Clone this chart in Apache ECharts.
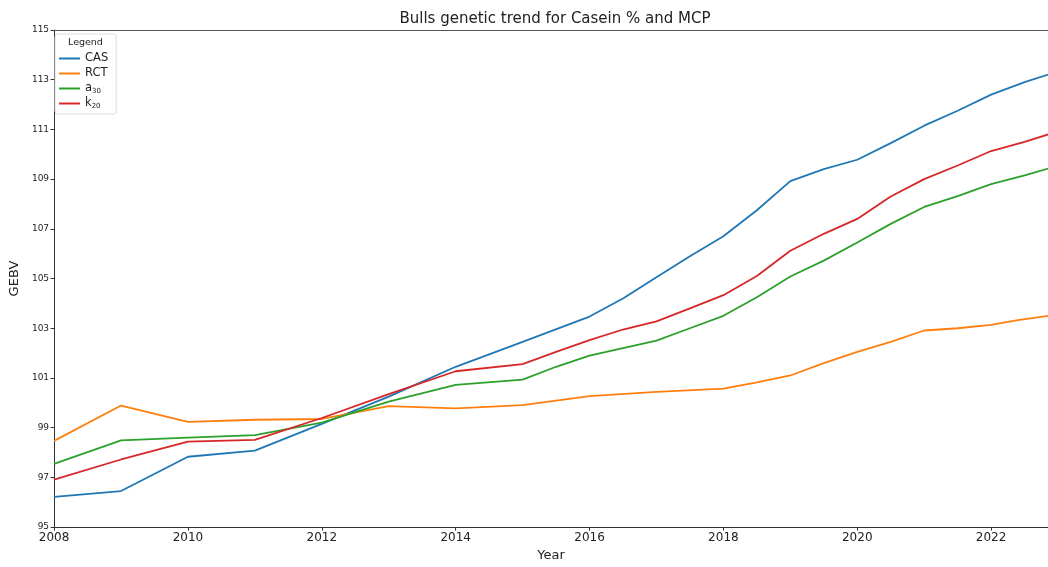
<!DOCTYPE html>
<html>
<head>
<meta charset="utf-8">
<script src="https://cdn.jsdelivr.net/npm/echarts@6/dist/echarts.min.js"></script>
<style>
html,body{margin:0;padding:0;background:#fff;overflow:hidden;}
#chart{width:1048px;height:567px;}
</style>
</head>
<body>
<div id="chart"></div>
<script>
const titleText = "Bulls genetic trend for Casein % and MCP";
const seriesNames = ["CAS", "RCT", "a30", "k20"];
const legendLabels = ["CAS", "RCT", "a{sub|30}", "k{sub|20}"];
const colors = ["#1f77b4", "#ff7f0e", "#2ca02c", "#d62728"];
const yTicks = {min: 95, max: 115, interval: 2};
const xTicks = {min: 2008, max: 2022.85, interval: 2};

const casData = [
  [2008, 96.22], [2009, 96.45], [2010, 97.83], [2011, 98.08], [2012, 99.15],
  [2013, 100.25], [2014, 101.45], [2015, 102.45], [2016, 103.47], [2016.5, 104.2],
  [2017, 105.05], [2017.5, 105.9], [2018, 106.7], [2018.5, 107.75], [2019, 108.92],
  [2019.5, 109.4], [2020, 109.78], [2020.5, 110.45], [2021, 111.15], [2021.5, 111.75],
  [2022, 112.4], [2022.5, 112.9], [2022.9, 113.25]
];
const rctData = [
  [2008, 98.47], [2009, 99.89], [2010, 99.23], [2011, 99.32], [2012, 99.35],
  [2013, 99.87], [2014, 99.78], [2015, 99.91], [2016, 100.27], [2017, 100.44],
  [2018, 100.57], [2018.5, 100.82], [2019, 101.1], [2019.5, 101.6], [2020, 102.05],
  [2020.5, 102.45], [2021, 102.91], [2021.5, 103.0], [2022, 103.14], [2022.4, 103.33],
  [2022.9, 103.52]
];
const a30Data = [
  [2008, 97.54], [2009, 98.49], [2010, 98.6], [2011, 98.7], [2012, 99.2],
  [2013, 100.05], [2014, 100.72], [2015, 100.93], [2015.5, 101.45], [2016, 101.9],
  [2016.5, 102.2], [2017, 102.5], [2017.5, 103.0], [2018, 103.5], [2018.5, 104.25],
  [2019, 105.08], [2019.5, 105.72], [2020, 106.45], [2020.5, 107.2], [2021, 107.88],
  [2021.5, 108.32], [2022, 108.8], [2022.5, 109.15], [2022.9, 109.46]
];
const k20Data = [
  [2008, 96.91], [2009, 97.72], [2010, 98.44], [2011, 98.51], [2012, 99.39],
  [2013, 100.35], [2014, 101.27], [2015, 101.56], [2015.5, 102.05], [2016, 102.52],
  [2016.5, 102.95], [2017, 103.28], [2017.5, 103.8], [2018, 104.33], [2018.5, 105.1],
  [2019, 106.12], [2019.5, 106.8], [2020, 107.4], [2020.5, 108.3], [2021, 109.0],
  [2021.5, 109.55], [2022, 110.13], [2022.5, 110.5], [2022.9, 110.84]
];
const allData = [casData, rctData, a30Data, k20Data];

const FONT = "DejaVu Sans";
const chart = echarts.init(document.getElementById('chart'), null, {renderer: 'canvas'});

const series = seriesNames.map((n, i) => ({
  name: n,
  type: 'line',
  data: allData[i],
  showSymbol: false,
  symbol: 'none',
  clip: true,
  lineStyle: {width: 1.8, color: colors[i]},
  itemStyle: {color: colors[i]},
  z: 2 + i,
  animation: false
}));

chart.setOption({
  animation: false,
  backgroundColor: '#fff',
  title: [
    {text: titleText, left: 550, textAlign: 'center', top: 7,
     textStyle: {fontFamily: FONT, fontSize: 15, fontWeight: 'normal', color: '#222'}},
    {text: 'Legend', left: 63, top: 33,
     textStyle: {fontFamily: FONT, fontSize: 9.5, fontWeight: 'normal', color: '#222'}, z: 10}
  ],
  legend: {
    orient: 'vertical',
    left: 55, top: 34,
    padding: [18, 8, 4, 4],
    itemGap: 2,
    itemWidth: 21, itemHeight: 2,
    icon: 'rect',
    borderColor: '#ddd', borderWidth: 1, borderRadius: 3,
    backgroundColor: 'rgba(255,255,255,0.85)',
    data: seriesNames,
    formatter: function (name) { return legendLabels[seriesNames.indexOf(name)]; },
    textStyle: {
      fontFamily: FONT, fontSize: 11.5, color: '#222', height: 13, lineHeight: 13,
      rich: {sub: {fontSize: 7, fontFamily: FONT, verticalAlign: 'bottom', padding: [6, 0, 0, 0], color: '#222'}}
    }
  },
  grid: {left: 52, top: 30, right: 0, height: 506, show: false, containLabel: false},
  xAxis: [{
    type: 'value', min: xTicks.min, max: xTicks.max, interval: xTicks.interval,
    name: 'Year', nameLocation: 'middle', nameGap: 19,
    nameTextStyle: {fontFamily: FONT, fontSize: 13, color: '#222'},
    axisLine: {show: true, lineStyle: {color: '#333', width: 1}},
    axisTick: {show: true, length: 3.5, lineStyle: {color: '#333'}},
    axisLabel: {fontFamily: FONT, fontSize: 12, color: '#222', margin: 5, showMaxLabel: false,
      formatter: function (v) { return String(Math.round(v)); }},
    splitLine: {show: false}
  }, {
    type: 'value', position: 'top', min: xTicks.min, max: xTicks.max, interval: xTicks.interval,
    axisLine: {show: true, lineStyle: {color: '#555', width: 1}},
    axisTick: {show: false}, axisLabel: {show: false}, splitLine: {show: false}
  }],
  yAxis: {
    type: 'value', min: yTicks.min, max: yTicks.max, interval: yTicks.interval,
    name: 'GEBV', nameLocation: 'middle', nameGap: 31,
    nameTextStyle: {fontFamily: FONT, fontSize: 13, color: '#222'},
    axisLine: {show: true, lineStyle: {color: '#333', width: 1}},
    axisTick: {show: true, length: 3.5, lineStyle: {color: '#333'}},
    axisLabel: {fontFamily: FONT, fontSize: 9, color: '#222', margin: 5},
    splitLine: {show: false}
  },
  series: series
});
</script>
</body>
</html>
